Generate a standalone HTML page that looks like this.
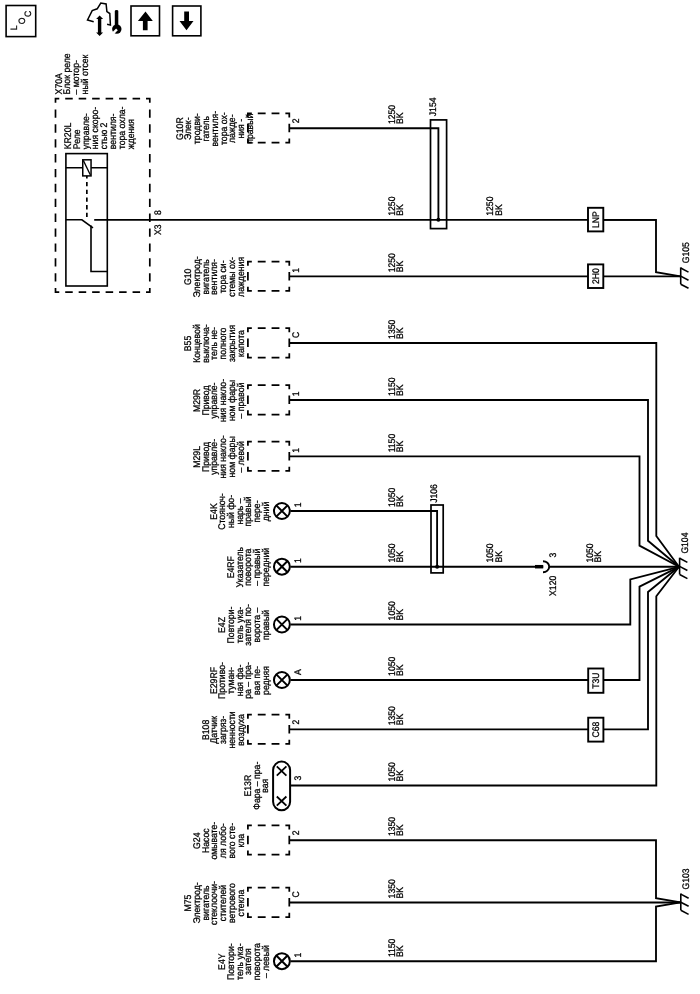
<!DOCTYPE html>
<html><head><meta charset="utf-8"><title>Wiring diagram</title>
<style>
html,body{margin:0;padding:0;background:#fff;}
svg{display:block;filter:grayscale(1);}
svg text{font-family:"Liberation Sans",sans-serif;text-rendering:geometricPrecision;fill:#000;stroke:#000;stroke-width:0.25px;}
</style></head>
<body>
<svg width="700" height="994" viewBox="0 0 700 994">
<rect x="0" y="0" width="700" height="994" fill="#fff" stroke="none"/>
<g fill="none" stroke="#000" stroke-linecap="butt" stroke-linejoin="miter">
<rect x="6.1" y="5.5" width="29.6" height="31.1" stroke-width="1.6"/>
<text transform="translate(17,30.3) rotate(-90) scale(1,1.06)" text-anchor="start" font-size="8.7">L</text>
<text transform="translate(24.7,24.3) rotate(-90) scale(1,1.06)" text-anchor="start" font-size="8.7">O</text>
<text transform="translate(31.1,17.1) rotate(-90) scale(1,1.06)" text-anchor="start" font-size="8.7">C</text>
<path d="M93.7,21.7L87.5,20L92.2,10.6L97.2,8.8L100.8,3L106.1,3.9L106.9,11.6L109.8,13.5L110.4,25.1L107.1,24.2" stroke-width="1.5" stroke-linejoin="miter"/>
<path d="M99.6,15.5L103.1,19.1H101.3V32.5H103.1L99.6,36L96.1,32.5H97.9V19.1H96.1Z" fill="#000" stroke="none"/>
<path d="M114.8,11Q114.8,9.9 116.55,9.9Q118.3,9.9 118.3,11V26H114.8Z" fill="#000" stroke="none"/>
<circle cx="116.8" cy="29.1" r="4.7" fill="#000" stroke="none"/>
<path d="M117.8,30.3L116.1,28.6L111.1,33.5L112.9,35.3Z" fill="#fff" stroke="none"/>
<rect x="131.0" y="6.0" width="28.5" height="29.8" stroke-width="1.6"/>
<path d="M145.5,11.5L152.8,20.9H147.6V30.2H142.9V20.9H137.9Z" fill="#000" stroke="none"/>
<rect x="172.6" y="6.0" width="28.3" height="29.8" stroke-width="1.6"/>
<path d="M184.2,11.5H189V21.1H193.5L186.5,30.2L179.5,21.1H184.2Z" fill="#000" stroke="none"/>
<path d="M55.5,102.87V98.7H59.27M146.03,98.7H149.8V102.87M149.8,288.03V292.2H146.03M59.27,292.2H55.5V288.03M65.2,98.7H72.74M65.2,292.2H72.74M78.67,98.7H86.21M78.67,292.2H86.21M92.14,98.7H99.69M92.14,292.2H99.69M105.61,98.7H113.16M105.61,292.2H113.16M119.09,98.7H126.63M119.09,292.2H126.63M132.56,98.7H140.1M132.56,292.2H140.1M55.5,109.42V117.75M149.8,109.42V117.75M55.5,124.3V132.64M149.8,124.3V132.64M55.5,139.19V147.52M149.8,139.19V147.52M55.5,154.07V162.41M149.8,154.07V162.41M55.5,168.96V177.29M149.8,168.96V177.29M55.5,183.84V192.18M149.8,183.84V192.18M55.5,198.72V207.06M149.8,198.72V207.06M55.5,213.61V221.94M149.8,213.61V221.94M55.5,228.49V236.83M149.8,228.49V236.83M55.5,243.38V251.71M149.8,243.38V251.71M55.5,258.26V266.6M149.8,258.26V266.6M55.5,273.15V281.48M149.8,273.15V281.48" stroke-width="1.7"/>
<text transform="translate(61.5,94.4) rotate(-90) scale(1,1.11)" text-anchor="start" font-size="8.7">X70A</text>
<text transform="translate(70.2,94.4) rotate(-90) scale(1,1.11)" text-anchor="start" font-size="8.7">Блок реле</text>
<text transform="translate(78.9,94.4) rotate(-90) scale(1,1.11)" text-anchor="start" font-size="8.7">– мотор-</text>
<text transform="translate(87.6,94.4) rotate(-90) scale(1,1.11)" text-anchor="start" font-size="8.7">ный отсек</text>
<text transform="translate(71.3,149.2) rotate(-90) scale(1,1.11)" text-anchor="start" font-size="8.7">KR20L</text>
<text transform="translate(80.2,149.2) rotate(-90) scale(1,1.11)" text-anchor="start" font-size="8.7">Реле</text>
<text transform="translate(89.1,149.2) rotate(-90) scale(1,1.11)" text-anchor="start" font-size="8.7">управле-</text>
<text transform="translate(98,149.2) rotate(-90) scale(1,1.11)" text-anchor="start" font-size="8.7">ния скоро-</text>
<text transform="translate(106.9,149.2) rotate(-90) scale(1,1.11)" text-anchor="start" font-size="8.7">стью 2</text>
<text transform="translate(115.8,149.2) rotate(-90) scale(1,1.11)" text-anchor="start" font-size="8.7">вентиля-</text>
<text transform="translate(124.7,149.2) rotate(-90) scale(1,1.11)" text-anchor="start" font-size="8.7">тора охла-</text>
<text transform="translate(133.6,149.2) rotate(-90) scale(1,1.11)" text-anchor="start" font-size="8.7">ждения</text>
<rect x="65.9" y="153.6" width="41.4" height="132.4" stroke-width="1.6"/>
<line x1="65.9" y1="167.7" x2="107.3" y2="167.7" stroke-width="1.6"/>
<line x1="86.85" y1="174.3" x2="86.85" y2="217.7" stroke-width="1.7" stroke-dasharray="4.3,3.4"/>
<rect x="82.75" y="159.8" width="8.3" height="16.1" fill="#fff" stroke-width="1.5"/>
<line x1="83.3" y1="160.4" x2="90.5" y2="175.3" stroke-width="1.3"/>
<path d="M65.9,219.8H81.9L93,227.8" stroke-width="1.6"/>
<path d="M91.0,225.6V271.5H107.3" stroke-width="1.6"/>
<line x1="94.2" y1="219.8" x2="656" y2="219.8" stroke-width="1.85"/>
<text transform="translate(160.6,235) rotate(-90) scale(1,1.11)" text-anchor="start" font-size="8.6">X3</text>
<text transform="translate(160.6,215) rotate(-90) scale(1,1.11)" text-anchor="start" font-size="8.6">8</text>
<path d="M247.9,117.49V113.3H251.83M285.37,113.3H289.3V117.49M289.3,138.51V142.7H285.37M251.83,142.7H247.9V138.51M257.77,113.3H265.63M257.77,142.7H265.63M271.57,113.3H279.43M271.57,142.7H279.43M247.9,123.81V132.19M289.3,123.81V132.19" stroke-width="1.75"/>
<text transform="translate(182.6,128.7) rotate(-90) scale(1,1.11)" text-anchor="middle" font-size="8.7">G10R</text>
<text transform="translate(191.4,128.7) rotate(-90) scale(1,1.11)" text-anchor="middle" font-size="8.7">Элек-</text>
<text transform="translate(200.2,128.7) rotate(-90) scale(1,1.11)" text-anchor="middle" font-size="8.7">тродви-</text>
<text transform="translate(209,128.7) rotate(-90) scale(1,1.11)" text-anchor="middle" font-size="8.7">гатель</text>
<text transform="translate(217.8,128.7) rotate(-90) scale(1,1.11)" text-anchor="middle" font-size="8.7">вентиля-</text>
<text transform="translate(226.6,128.7) rotate(-90) scale(1,1.11)" text-anchor="middle" font-size="8.7">тора ох-</text>
<text transform="translate(235.4,128.7) rotate(-90) scale(1,1.11)" text-anchor="middle" font-size="8.7">лажде-</text>
<text transform="translate(244.2,128.7) rotate(-90) scale(1,1.11)" text-anchor="middle" font-size="8.7">ния -</text>
<text transform="translate(253,128.7) rotate(-90) scale(1,1.11)" text-anchor="middle" font-size="8.7">правый</text>
<text transform="translate(298.9,123.3) rotate(-90) scale(1,1.11)" text-anchor="start" font-size="8.6">2</text>
<path d="M247.9,265.69V261.5H251.83M285.37,261.5H289.3V265.69M289.3,286.71V290.9H285.37M251.83,290.9H247.9V286.71M257.77,261.5H265.63M257.77,290.9H265.63M271.57,261.5H279.43M271.57,290.9H279.43M247.9,272.01V280.39M289.3,272.01V280.39" stroke-width="1.75"/>
<text transform="translate(191.3,276.9) rotate(-90) scale(1,1.11)" text-anchor="middle" font-size="8.7">G10</text>
<text transform="translate(200,276.9) rotate(-90) scale(1,1.11)" text-anchor="middle" font-size="8.7">Электрод-</text>
<text transform="translate(208.7,276.9) rotate(-90) scale(1,1.11)" text-anchor="middle" font-size="8.7">вигатель</text>
<text transform="translate(217.4,276.9) rotate(-90) scale(1,1.11)" text-anchor="middle" font-size="8.7">вентиля-</text>
<text transform="translate(226.1,276.9) rotate(-90) scale(1,1.11)" text-anchor="middle" font-size="8.7">тора си-</text>
<text transform="translate(234.8,276.9) rotate(-90) scale(1,1.11)" text-anchor="middle" font-size="8.7">стемы ох-</text>
<text transform="translate(243.5,276.9) rotate(-90) scale(1,1.11)" text-anchor="middle" font-size="8.7">лаждения</text>
<text transform="translate(298.9,272.7) rotate(-90) scale(1,1.11)" text-anchor="start" font-size="8.6">1</text>
<path d="M247.9,332.29V328.1H251.83M285.37,328.1H289.3V332.29M289.3,353.31V357.5H285.37M251.83,357.5H247.9V353.31M257.77,328.1H265.63M257.77,357.5H265.63M271.57,328.1H279.43M271.57,357.5H279.43M247.9,338.61V346.99M289.3,338.61V346.99" stroke-width="1.75"/>
<text transform="translate(191.3,343.5) rotate(-90) scale(1,1.11)" text-anchor="middle" font-size="8.7">B55</text>
<text transform="translate(200,343.5) rotate(-90) scale(1,1.11)" text-anchor="middle" font-size="8.7">Концевой</text>
<text transform="translate(208.7,343.5) rotate(-90) scale(1,1.11)" text-anchor="middle" font-size="8.7">выключа-</text>
<text transform="translate(217.4,343.5) rotate(-90) scale(1,1.11)" text-anchor="middle" font-size="8.7">тель не-</text>
<text transform="translate(226.1,343.5) rotate(-90) scale(1,1.11)" text-anchor="middle" font-size="8.7">полного</text>
<text transform="translate(234.8,343.5) rotate(-90) scale(1,1.11)" text-anchor="middle" font-size="8.7">закрытия</text>
<text transform="translate(243.5,343.5) rotate(-90) scale(1,1.11)" text-anchor="middle" font-size="8.7">капота</text>
<text transform="translate(298.9,338.1) rotate(-90) scale(1,1.11)" text-anchor="start" font-size="8.6">C</text>
<path d="M247.9,389.29V385.1H251.83M285.37,385.1H289.3V389.29M289.3,410.31V414.5H285.37M251.83,414.5H247.9V410.31M257.77,385.1H265.63M257.77,414.5H265.63M271.57,385.1H279.43M271.57,414.5H279.43M247.9,395.61V403.99M289.3,395.61V403.99" stroke-width="1.75"/>
<text transform="translate(200,400.5) rotate(-90) scale(1,1.11)" text-anchor="middle" font-size="8.7">M29R</text>
<text transform="translate(208.7,400.5) rotate(-90) scale(1,1.11)" text-anchor="middle" font-size="8.7">Привод</text>
<text transform="translate(217.4,400.5) rotate(-90) scale(1,1.11)" text-anchor="middle" font-size="8.7">управле-</text>
<text transform="translate(226.1,400.5) rotate(-90) scale(1,1.11)" text-anchor="middle" font-size="8.7">ния накло-</text>
<text transform="translate(234.8,400.5) rotate(-90) scale(1,1.11)" text-anchor="middle" font-size="8.7">ном фары</text>
<text transform="translate(243.5,400.5) rotate(-90) scale(1,1.11)" text-anchor="middle" font-size="8.7">– правой</text>
<text transform="translate(298.9,396.3) rotate(-90) scale(1,1.11)" text-anchor="start" font-size="8.6">1</text>
<path d="M247.9,445.69V441.5H251.83M285.37,441.5H289.3V445.69M289.3,466.71V470.9H285.37M251.83,470.9H247.9V466.71M257.77,441.5H265.63M257.77,470.9H265.63M271.57,441.5H279.43M271.57,470.9H279.43M247.9,452.01V460.39M289.3,452.01V460.39" stroke-width="1.75"/>
<text transform="translate(200,456.9) rotate(-90) scale(1,1.11)" text-anchor="middle" font-size="8.7">M29L</text>
<text transform="translate(208.7,456.9) rotate(-90) scale(1,1.11)" text-anchor="middle" font-size="8.7">Привод</text>
<text transform="translate(217.4,456.9) rotate(-90) scale(1,1.11)" text-anchor="middle" font-size="8.7">управле-</text>
<text transform="translate(226.1,456.9) rotate(-90) scale(1,1.11)" text-anchor="middle" font-size="8.7">ния накло-</text>
<text transform="translate(234.8,456.9) rotate(-90) scale(1,1.11)" text-anchor="middle" font-size="8.7">ном фары</text>
<text transform="translate(243.5,456.9) rotate(-90) scale(1,1.11)" text-anchor="middle" font-size="8.7">– левой</text>
<text transform="translate(298.9,452.7) rotate(-90) scale(1,1.11)" text-anchor="start" font-size="8.6">1</text>
<circle cx="281.9" cy="511" r="7.95" stroke-width="2"/>
<path d="M276.28,505.38L287.52,516.62M276.28,516.62L287.52,505.38" stroke-width="2"/>
<text transform="translate(216.6,511.5) rotate(-90) scale(1,1.11)" text-anchor="middle" font-size="8.7">E4K</text>
<text transform="translate(225.3,511.5) rotate(-90) scale(1,1.11)" text-anchor="middle" font-size="8.7">Стояноч-</text>
<text transform="translate(234,511.5) rotate(-90) scale(1,1.11)" text-anchor="middle" font-size="8.7">ный фо-</text>
<text transform="translate(242.7,511.5) rotate(-90) scale(1,1.11)" text-anchor="middle" font-size="8.7">нарь –</text>
<text transform="translate(251.4,511.5) rotate(-90) scale(1,1.11)" text-anchor="middle" font-size="8.7">правый</text>
<text transform="translate(260.1,511.5) rotate(-90) scale(1,1.11)" text-anchor="middle" font-size="8.7">пере-</text>
<text transform="translate(268.8,511.5) rotate(-90) scale(1,1.11)" text-anchor="middle" font-size="8.7">дний</text>
<text transform="translate(300.9,507.3) rotate(-90) scale(1,1.11)" text-anchor="start" font-size="8.6">1</text>
<circle cx="281.9" cy="566.7" r="7.95" stroke-width="2"/>
<path d="M276.28,561.08L287.52,572.32M276.28,572.32L287.52,561.08" stroke-width="2"/>
<text transform="translate(234,567.2) rotate(-90) scale(1,1.11)" text-anchor="middle" font-size="8.7">E4RF</text>
<text transform="translate(242.7,567.2) rotate(-90) scale(1,1.11)" text-anchor="middle" font-size="8.7">Указатель</text>
<text transform="translate(251.4,567.2) rotate(-90) scale(1,1.11)" text-anchor="middle" font-size="8.7">поворота</text>
<text transform="translate(260.1,567.2) rotate(-90) scale(1,1.11)" text-anchor="middle" font-size="8.7">– правый</text>
<text transform="translate(268.8,567.2) rotate(-90) scale(1,1.11)" text-anchor="middle" font-size="8.7">передний</text>
<text transform="translate(300.9,563) rotate(-90) scale(1,1.11)" text-anchor="start" font-size="8.6">1</text>
<circle cx="281.9" cy="624.5" r="7.95" stroke-width="2"/>
<path d="M276.28,618.88L287.52,630.12M276.28,630.12L287.52,618.88" stroke-width="2"/>
<text transform="translate(225.3,625) rotate(-90) scale(1,1.11)" text-anchor="middle" font-size="8.7">E4Z</text>
<text transform="translate(234,625) rotate(-90) scale(1,1.11)" text-anchor="middle" font-size="8.7">Повтори-</text>
<text transform="translate(242.7,625) rotate(-90) scale(1,1.11)" text-anchor="middle" font-size="8.7">тель ука-</text>
<text transform="translate(251.4,625) rotate(-90) scale(1,1.11)" text-anchor="middle" font-size="8.7">зателя по-</text>
<text transform="translate(260.1,625) rotate(-90) scale(1,1.11)" text-anchor="middle" font-size="8.7">ворота –</text>
<text transform="translate(268.8,625) rotate(-90) scale(1,1.11)" text-anchor="middle" font-size="8.7">правый</text>
<text transform="translate(300.9,620.8) rotate(-90) scale(1,1.11)" text-anchor="start" font-size="8.6">1</text>
<circle cx="281.9" cy="680" r="7.95" stroke-width="2"/>
<path d="M276.28,674.38L287.52,685.62M276.28,685.62L287.52,674.38" stroke-width="2"/>
<text transform="translate(216.6,680.5) rotate(-90) scale(1,1.11)" text-anchor="middle" font-size="8.7">E29RF</text>
<text transform="translate(225.3,680.5) rotate(-90) scale(1,1.11)" text-anchor="middle" font-size="8.7">Противо-</text>
<text transform="translate(234,680.5) rotate(-90) scale(1,1.11)" text-anchor="middle" font-size="8.7">туман-</text>
<text transform="translate(242.7,680.5) rotate(-90) scale(1,1.11)" text-anchor="middle" font-size="8.7">ная фа-</text>
<text transform="translate(251.4,680.5) rotate(-90) scale(1,1.11)" text-anchor="middle" font-size="8.7">ра – пра-</text>
<text transform="translate(260.1,680.5) rotate(-90) scale(1,1.11)" text-anchor="middle" font-size="8.7">вая пе-</text>
<text transform="translate(268.8,680.5) rotate(-90) scale(1,1.11)" text-anchor="middle" font-size="8.7">редняя</text>
<text transform="translate(300.9,675.1) rotate(-90) scale(1,1.11)" text-anchor="start" font-size="8.6">A</text>
<path d="M247.9,718.69V714.5H251.83M285.37,714.5H289.3V718.69M289.3,739.71V743.9H285.37M251.83,743.9H247.9V739.71M257.77,714.5H265.63M257.77,743.9H265.63M271.57,714.5H279.43M271.57,743.9H279.43M247.9,725.01V733.39M289.3,725.01V733.39" stroke-width="1.75"/>
<text transform="translate(208.7,729.9) rotate(-90) scale(1,1.11)" text-anchor="middle" font-size="8.7">B108</text>
<text transform="translate(217.4,729.9) rotate(-90) scale(1,1.11)" text-anchor="middle" font-size="8.7">Датчик</text>
<text transform="translate(226.1,729.9) rotate(-90) scale(1,1.11)" text-anchor="middle" font-size="8.7">загряз-</text>
<text transform="translate(234.8,729.9) rotate(-90) scale(1,1.11)" text-anchor="middle" font-size="8.7">ненности</text>
<text transform="translate(243.5,729.9) rotate(-90) scale(1,1.11)" text-anchor="middle" font-size="8.7">воздуха</text>
<text transform="translate(298.9,724.5) rotate(-90) scale(1,1.11)" text-anchor="start" font-size="8.6">2</text>
<rect x="273.1" y="761.6" width="17.0" height="48.7" rx="8.5" ry="8.5" stroke-width="2"/>
<path d="M276.8,766.4L286.4,775.6M276.8,775.6L286.4,766.4" stroke-width="1.8"/>
<path d="M276.8,796.5L286.4,805.7M276.8,805.7L286.4,796.5" stroke-width="1.8"/>
<text transform="translate(250.9,785.7) rotate(-90) scale(1,1.11)" text-anchor="middle" font-size="8.7">E13R</text>
<text transform="translate(259.6,785.7) rotate(-90) scale(1,1.11)" text-anchor="middle" font-size="8.7">Фара – пра-</text>
<text transform="translate(268.3,785.7) rotate(-90) scale(1,1.11)" text-anchor="middle" font-size="8.7">вая</text>
<text transform="translate(300.7,780.6) rotate(-90) scale(1,1.11)" text-anchor="start" font-size="8.6">3</text>
<path d="M247.9,829.49V825.3H251.83M285.37,825.3H289.3V829.49M289.3,850.51V854.7H285.37M251.83,854.7H247.9V850.51M257.77,825.3H265.63M257.77,854.7H265.63M271.57,825.3H279.43M271.57,854.7H279.43M247.9,835.81V844.19M289.3,835.81V844.19" stroke-width="1.75"/>
<text transform="translate(200,840.7) rotate(-90) scale(1,1.11)" text-anchor="middle" font-size="8.7">G24</text>
<text transform="translate(208.7,840.7) rotate(-90) scale(1,1.11)" text-anchor="middle" font-size="8.7">Насос</text>
<text transform="translate(217.4,840.7) rotate(-90) scale(1,1.11)" text-anchor="middle" font-size="8.7">омывате-</text>
<text transform="translate(226.1,840.7) rotate(-90) scale(1,1.11)" text-anchor="middle" font-size="8.7">ля лобо-</text>
<text transform="translate(234.8,840.7) rotate(-90) scale(1,1.11)" text-anchor="middle" font-size="8.7">вого сте-</text>
<text transform="translate(243.5,840.7) rotate(-90) scale(1,1.11)" text-anchor="middle" font-size="8.7">кла</text>
<text transform="translate(298.9,835.3) rotate(-90) scale(1,1.11)" text-anchor="start" font-size="8.6">2</text>
<path d="M247.9,891.79V887.6H251.83M285.37,887.6H289.3V891.79M289.3,912.81V917H285.37M251.83,917H247.9V912.81M257.77,887.6H265.63M257.77,917H265.63M271.57,887.6H279.43M271.57,917H279.43M247.9,898.11V906.49M289.3,898.11V906.49" stroke-width="1.75"/>
<text transform="translate(191.3,903) rotate(-90) scale(1,1.11)" text-anchor="middle" font-size="8.7">M75</text>
<text transform="translate(200,903) rotate(-90) scale(1,1.11)" text-anchor="middle" font-size="8.7">Электрод-</text>
<text transform="translate(208.7,903) rotate(-90) scale(1,1.11)" text-anchor="middle" font-size="8.7">вигатель</text>
<text transform="translate(217.4,903) rotate(-90) scale(1,1.11)" text-anchor="middle" font-size="8.7">стеклоочи-</text>
<text transform="translate(226.1,903) rotate(-90) scale(1,1.11)" text-anchor="middle" font-size="8.7">стителей</text>
<text transform="translate(234.8,903) rotate(-90) scale(1,1.11)" text-anchor="middle" font-size="8.7">ветрового</text>
<text transform="translate(243.5,903) rotate(-90) scale(1,1.11)" text-anchor="middle" font-size="8.7">стекла</text>
<text transform="translate(298.9,897.6) rotate(-90) scale(1,1.11)" text-anchor="start" font-size="8.6">C</text>
<circle cx="281.9" cy="961.2" r="7.95" stroke-width="2"/>
<path d="M276.28,955.58L287.52,966.82M276.28,966.82L287.52,955.58" stroke-width="2"/>
<text transform="translate(225.3,961.7) rotate(-90) scale(1,1.11)" text-anchor="middle" font-size="8.7">E4Y</text>
<text transform="translate(234,961.7) rotate(-90) scale(1,1.11)" text-anchor="middle" font-size="8.7">Повтори-</text>
<text transform="translate(242.7,961.7) rotate(-90) scale(1,1.11)" text-anchor="middle" font-size="8.7">тель ука-</text>
<text transform="translate(251.4,961.7) rotate(-90) scale(1,1.11)" text-anchor="middle" font-size="8.7">зателя</text>
<text transform="translate(260.1,961.7) rotate(-90) scale(1,1.11)" text-anchor="middle" font-size="8.7">поворота</text>
<text transform="translate(268.8,961.7) rotate(-90) scale(1,1.11)" text-anchor="middle" font-size="8.7">– левый</text>
<text transform="translate(300.9,957.5) rotate(-90) scale(1,1.11)" text-anchor="start" font-size="8.6">1</text>
<path d="M289.3,128.2H438.4V219.8" stroke-width="1.85"/>
<circle cx="438.4" cy="219.8" r="2" fill="#000" stroke="none"/>
<rect x="430.5" y="119.9" width="16.1" height="108.7" stroke-width="1.7"/>
<text transform="translate(436.1,116.2) rotate(-90) scale(1,1.11)" text-anchor="start" font-size="8.6">J154</text>
<text transform="translate(395,124.1) rotate(-90) scale(1,1.11)" text-anchor="start" font-size="8.6">1250</text>
<text transform="translate(403.35,124.1) rotate(-90) scale(1,1.11)" text-anchor="start" font-size="8.6">BK</text>
<text transform="translate(395,215.7) rotate(-90) scale(1,1.11)" text-anchor="start" font-size="8.6">1250</text>
<text transform="translate(403.35,215.7) rotate(-90) scale(1,1.11)" text-anchor="start" font-size="8.6">BK</text>
<text transform="translate(493.3,215.7) rotate(-90) scale(1,1.11)" text-anchor="start" font-size="8.6">1250</text>
<text transform="translate(501.65,215.7) rotate(-90) scale(1,1.11)" text-anchor="start" font-size="8.6">BK</text>
<rect x="588" y="207.8" width="15.3" height="23.6" fill="#fff" stroke-width="1.9"/>
<text transform="translate(598.75,219.6) rotate(-90) scale(1,1.11)" text-anchor="middle" font-size="8.6">LNP</text>
<path d="M603.3,219.8H656V272.2L680.6,276.4" stroke-width="1.85"/>
<path d="M289.3,276.4H680.6" stroke-width="1.85"/>
<text transform="translate(395,272.3) rotate(-90) scale(1,1.11)" text-anchor="start" font-size="8.6">1250</text>
<text transform="translate(403.35,272.3) rotate(-90) scale(1,1.11)" text-anchor="start" font-size="8.6">BK</text>
<rect x="588" y="264.4" width="15.3" height="23.6" fill="#fff" stroke-width="1.9"/>
<text transform="translate(598.75,276.2) rotate(-90) scale(1,1.11)" text-anchor="middle" font-size="8.6">2H0</text>
<path d="M680.7,267.4V284.2" stroke-width="1.6"/>
<path d="M680.7,268l7.8,4.1" stroke-width="1.6"/>
<path d="M680.7,276.1l7.8,4.1" stroke-width="1.6"/>
<path d="M680.7,284.2l7.8,4.1" stroke-width="1.6"/>
<text transform="translate(689,263.3) rotate(-90) scale(1,1.11)" text-anchor="start" font-size="8.6">G105</text>
<path d="M289.3,343.0H656.3V536L679.0,566.8" stroke-width="1.85"/>
<path d="M289.3,400.0H648V540.8L679.0,566.8" stroke-width="1.85"/>
<path d="M289.3,456.4H639.5V545.6L679.0,566.8" stroke-width="1.85"/>
<path d="M290.5,511.0H437.1V566.7" stroke-width="1.85"/>
<circle cx="437.1" cy="566.7" r="2" fill="#000" stroke="none"/>
<rect x="431.0" y="505.0" width="12.2" height="67.9" stroke-width="1.7"/>
<text transform="translate(436.7,502.8) rotate(-90) scale(1,1.11)" text-anchor="start" font-size="8.6">J106</text>
<path d="M290.5,566.7H543.2M549.2,566.7H679.0" stroke-width="1.85"/>
<line x1="535" y1="566.7" x2="543.2" y2="566.7" stroke-width="3.5"/>
<path d="M543.0,561.2A6.2,5.5 0 0 1 543.0,572.2" stroke-width="1.9"/>
<text transform="translate(556.4,557.4) rotate(-90) scale(1,1.11)" text-anchor="start" font-size="8.6">3</text>
<text transform="translate(556.4,575.8) rotate(-90) scale(1,1.11)" text-anchor="end" font-size="8.6">X120</text>
<path d="M290.5,624.5H630.3V579.4L679.0,566.8" stroke-width="1.85"/>
<path d="M290.5,680.0H639.5V586.6L679.0,566.8" stroke-width="1.85"/>
<rect x="588.2" y="668.5" width="15.2" height="24.3" fill="#fff" stroke-width="1.9"/>
<text transform="translate(598.9,680.65) rotate(-90) scale(1,1.11)" text-anchor="middle" font-size="8.6">T3U</text>
<path d="M289.3,729.4H648V592L679.0,566.8" stroke-width="1.85"/>
<rect x="588.2" y="717.7" width="15.2" height="23.9" fill="#fff" stroke-width="1.9"/>
<text transform="translate(598.9,729.65) rotate(-90) scale(1,1.11)" text-anchor="middle" font-size="8.6">C68</text>
<path d="M290.5,785.5H656.3V596.3L679.0,566.8" stroke-width="1.85"/>
<path d="M679.6,557.7V574.5" stroke-width="1.6"/>
<path d="M679.6,558.3l7.8,4.1" stroke-width="1.6"/>
<path d="M679.6,566.4l7.8,4.1" stroke-width="1.6"/>
<path d="M679.6,574.5l7.8,4.1" stroke-width="1.6"/>
<text transform="translate(687.9,553.6) rotate(-90) scale(1,1.11)" text-anchor="start" font-size="8.6">G104</text>
<text transform="translate(395,338.9) rotate(-90) scale(1,1.11)" text-anchor="start" font-size="8.6">1350</text>
<text transform="translate(403.35,338.9) rotate(-90) scale(1,1.11)" text-anchor="start" font-size="8.6">BK</text>
<text transform="translate(395,395.9) rotate(-90) scale(1,1.11)" text-anchor="start" font-size="8.6">1150</text>
<text transform="translate(403.35,395.9) rotate(-90) scale(1,1.11)" text-anchor="start" font-size="8.6">BK</text>
<text transform="translate(395,452.3) rotate(-90) scale(1,1.11)" text-anchor="start" font-size="8.6">1150</text>
<text transform="translate(403.35,452.3) rotate(-90) scale(1,1.11)" text-anchor="start" font-size="8.6">BK</text>
<text transform="translate(395,506.9) rotate(-90) scale(1,1.11)" text-anchor="start" font-size="8.6">1050</text>
<text transform="translate(403.35,506.9) rotate(-90) scale(1,1.11)" text-anchor="start" font-size="8.6">BK</text>
<text transform="translate(395,562.6) rotate(-90) scale(1,1.11)" text-anchor="start" font-size="8.6">1050</text>
<text transform="translate(403.35,562.6) rotate(-90) scale(1,1.11)" text-anchor="start" font-size="8.6">BK</text>
<text transform="translate(493.3,562.6) rotate(-90) scale(1,1.11)" text-anchor="start" font-size="8.6">1050</text>
<text transform="translate(501.65,562.6) rotate(-90) scale(1,1.11)" text-anchor="start" font-size="8.6">BK</text>
<text transform="translate(593.1,562.6) rotate(-90) scale(1,1.11)" text-anchor="start" font-size="8.6">1050</text>
<text transform="translate(601.45,562.6) rotate(-90) scale(1,1.11)" text-anchor="start" font-size="8.6">BK</text>
<text transform="translate(395,620.4) rotate(-90) scale(1,1.11)" text-anchor="start" font-size="8.6">1050</text>
<text transform="translate(403.35,620.4) rotate(-90) scale(1,1.11)" text-anchor="start" font-size="8.6">BK</text>
<text transform="translate(395,675.9) rotate(-90) scale(1,1.11)" text-anchor="start" font-size="8.6">1050</text>
<text transform="translate(403.35,675.9) rotate(-90) scale(1,1.11)" text-anchor="start" font-size="8.6">BK</text>
<text transform="translate(395,725.3) rotate(-90) scale(1,1.11)" text-anchor="start" font-size="8.6">1350</text>
<text transform="translate(403.35,725.3) rotate(-90) scale(1,1.11)" text-anchor="start" font-size="8.6">BK</text>
<text transform="translate(395,781.4) rotate(-90) scale(1,1.11)" text-anchor="start" font-size="8.6">1050</text>
<text transform="translate(403.35,781.4) rotate(-90) scale(1,1.11)" text-anchor="start" font-size="8.6">BK</text>
<text transform="translate(395,836.1) rotate(-90) scale(1,1.11)" text-anchor="start" font-size="8.6">1350</text>
<text transform="translate(403.35,836.1) rotate(-90) scale(1,1.11)" text-anchor="start" font-size="8.6">BK</text>
<text transform="translate(395,898.4) rotate(-90) scale(1,1.11)" text-anchor="start" font-size="8.6">1350</text>
<text transform="translate(403.35,898.4) rotate(-90) scale(1,1.11)" text-anchor="start" font-size="8.6">BK</text>
<text transform="translate(395,957.1) rotate(-90) scale(1,1.11)" text-anchor="start" font-size="8.6">1150</text>
<text transform="translate(403.35,957.1) rotate(-90) scale(1,1.11)" text-anchor="start" font-size="8.6">BK</text>
<path d="M289.3,840.2H656V898.2L680.6,902.4" stroke-width="1.85"/>
<path d="M289.3,902.5H680.6" stroke-width="1.85"/>
<path d="M290.5,961.2H656V906.6L680.6,902.4" stroke-width="1.85"/>
<path d="M680.8,893.5V910.3" stroke-width="1.6"/>
<path d="M680.8,894.1l7.8,4.1" stroke-width="1.6"/>
<path d="M680.8,902.2l7.8,4.1" stroke-width="1.6"/>
<path d="M680.8,910.3l7.8,4.1" stroke-width="1.6"/>
<text transform="translate(689.1,889.4) rotate(-90) scale(1,1.11)" text-anchor="start" font-size="8.6">G103</text>
</g>
</svg>
</body></html>
